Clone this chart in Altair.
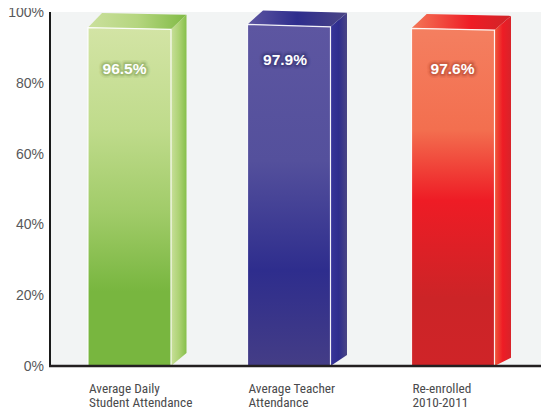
import altair as alt
import pandas as pd

# Category labels and printed values
cat_lines = [["Average Daily", "Student Attendance"], ["Average Teacher", "Attendance"], ["Re-enrolled", "2010-2011"]]
printed = ["96.5%", "97.9%", "97.6%"]
# Drawn geometry of the pseudo-3D columns (x in chart units, y in percent)
x_front_l = [88, 247.5, 411.5]
x_front_r = [171, 330.5, 494.5]
x_back_l = [102, 263, 426.7]
x_back_r = [186.5, 347, 511]
y_front_l = [95.6, 96.5, 95.4]
y_front_r = [95.1, 95.8, 94.9]
y_back_l = [99.7, 100.4, 99.4]
y_back_r = [99.2, 99.8, 98.9]
y_side_bottom = [3.7, 3.1, 2.3]
label_y = [83.8, 86.4, 83.8]
label_x = [124.5, 285, 452.5]
y_ticks = [0, 20, 40, 60, 80, 100]

front_stops = [
    [(0, "#d3e4a5"), (.30, "#bfdb8b"), (.55, "#a0cb68"), (.78, "#78b63f"), (1, "#78b63f")],
    [(0, "#5d56a1"), (.40, "#54509c"), (.72, "#2e2d8d"), (1, "#443d86")],
    [(0, "#f47f60"), (.30, "#f36f4f"), (.51, "#ee1c25"), (.80, "#cc2427"), (1, "#cf2428")],
]
side_stops = [
    [(0, "#c8df9a"), (.5, "#aed375"), (1, "#86bf4a")],
    [(0, "#37359a"), (.5, "#2e2d8d"), (1, "#4a4585")],
    [(0, "#f05a3a"), (.5, "#ee1c25"), (1, "#d8232a")],
]
top_stops = [
    [(0, "#cbe09d"), (.5, "#b5d67f"), (1, "#80ba45")],
    [(0, "#5d56a1"), (.5, "#2e2d8d"), (1, "#4a4585")],
    [(0, "#f47858"), (.6, "#ee1c25"), (1, "#cf2428")],
]
glow = ["#6f8f45", "#2a2866", "#a03a28"]

xs = alt.Scale(domain=[50, 541], nice=False, zero=False)
ys = alt.Scale(domain=[0, 100], nice=False, zero=False)
X = alt.X("x:Q", scale=xs, axis=None)
Y = alt.Y("y:Q", scale=ys, axis=None)
Y2 = alt.Y2("y2:Q")
FONT = "'Roboto Condensed', 'Arial Narrow', 'Liberation Sans Narrow', 'Liberation Sans'"


def grad(stops, horizontal):
    return alt.Gradient(
        gradient="linear", x1=0, y1=0, x2=1 if horizontal else 0, y2=0 if horizontal else 1,
        stops=[alt.GradientStop(offset=o, color=c) for o, c in stops],
    )


bg = (
    alt.Chart(pd.DataFrame({"x": [50], "x2": [541], "y": [100], "y2": [0]}))
    .mark_rect(color="#f2f4f4", clip=False)
    .encode(x=X, x2="x2:Q", y=Y, y2=Y2)
)
layers = [bg]
for i in range(3):
    front = pd.DataFrame({"x": [x_front_l[i], x_front_r[i]], "y": [y_front_l[i], y_front_r[i]], "y2": [0, 0]})
    side = pd.DataFrame({"x": [x_front_r[i], x_back_r[i]], "y": [y_front_r[i], y_back_r[i]], "y2": [0, y_side_bottom[i]]})
    top = pd.DataFrame({
        "x": [x_front_l[i], x_back_l[i], x_front_r[i], x_back_r[i]],
        "y": [y_front_l[i], y_back_l[i], y_back_l[i] - (x_front_r[i] - x_back_l[i]) / (x_back_r[i] - x_back_l[i]) * (y_back_l[i] - y_back_r[i]), y_back_r[i]],
        "y2": [y_front_l[i], y_front_l[i] - (x_back_l[i] - x_front_l[i]) / (x_front_r[i] - x_front_l[i]) * (y_front_l[i] - y_front_r[i]), y_front_r[i], y_back_r[i]],
    })
    edge = pd.DataFrame({
        "x": [x_front_l[i], x_front_l[i], x_front_r[i], x_front_r[i]],
        "y": [0, y_front_l[i], y_front_r[i], 0],
        "o": [0, 1, 2, 3],
    })
    layers.append(alt.Chart(side).mark_area(color=grad(side_stops[i], True), clip=False).encode(x=X, y=Y, y2=Y2))
    layers.append(alt.Chart(top).mark_area(color=grad(top_stops[i], True), clip=False).encode(x=X, y=Y, y2=Y2))
    layers.append(alt.Chart(front).mark_area(color=grad(front_stops[i], False), clip=False).encode(x=X, y=Y, y2=Y2))
    layers.append(alt.Chart(edge).mark_line(color="#ffffff", strokeWidth=1.2, opacity=0.9, clip=False).encode(x=X, y=Y, order="o:Q"))
    lab = pd.DataFrame({"x": [label_x[i]], "y": [label_y[i]], "t": [printed[i]]})
    for sw, op in [(8, 0.10), (5, 0.16), (3, 0.25)]:
        layers.append(alt.Chart(lab).mark_text(font="Liberation Sans", fontWeight="bold", fontSize=15.5, color=glow[i], stroke=glow[i], strokeWidth=sw, opacity=op, strokeJoin="round").encode(x=X, y=Y, text="t:N"))
    layers.append(alt.Chart(lab).mark_text(font="Liberation Sans", fontWeight="bold", fontSize=15.5, color="#ffffff").encode(x=X, y=Y, text="t:N"))
    cat = pd.DataFrame({"x": [x_front_l[i] + 1] * 2, "y": [-6.4, -10.5], "t": cat_lines[i]})
    layers.append(alt.Chart(cat).mark_text(font=FONT, fontSize=13.3, color="#4a4a4c", align="left", baseline="middle", clip=False).encode(x=X, y=Y, text="t:N"))

ticks = pd.DataFrame({"y": y_ticks, "x": [44] * len(y_ticks), "t": [f"{v}%" for v in y_ticks]})
layers.append(alt.Chart(ticks).mark_text(font="Liberation Sans", fontSize=14, dy=1, color="#58585a", align="right", baseline="middle", clip=False).encode(x=X, y=Y, text="t:N"))
layers.append(alt.Chart(pd.DataFrame({"x": [50, 50], "y": [100, 0]})).mark_line(color="#1a1a1a", strokeWidth=2, clip=False).encode(x=X, y=Y))
layers.append(alt.Chart(pd.DataFrame({"x": [49, 541], "y": [0, 0]})).mark_line(color="#231f20", strokeWidth=2.5, clip=False).encode(x=X, y=Y))

chart = (
    alt.layer(*layers)
    .properties(width=491, height=354, autosize=alt.AutoSizeParams(type="none"),
                padding={"left": 42, "top": 4, "right": 0, "bottom": 44})
    .configure_view(stroke=None)
)
chart.save("out.html", embed_options={"renderer": "svg", "actions": False})
